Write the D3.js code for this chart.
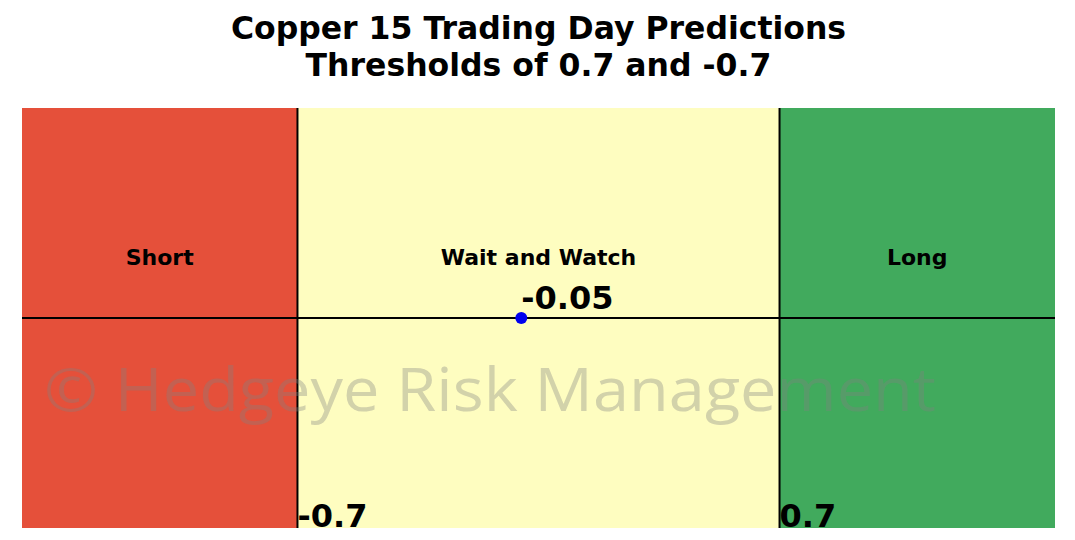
<!DOCTYPE html>
<html><head><meta charset="utf-8">
<script src="https://cdn.jsdelivr.net/npm/d3@7"></script>
<style>body{margin:0;background:#fff}</style>
</head><body>
<svg id="c" width="1075" height="540"></svg>
<script>
const titleLines = ["Copper 15 Trading Day Predictions", "Thresholds of 0.7 and -0.7"];
const zoneNames = ["Short", "Wait and Watch", "Long"];
const zoneStarts = [-1.5, -0.7, 0.7];
const zoneEnds = [-0.7, 0.7, 1.5];
const zoneColors = ["#e5503a", "#fefdc0", "#41aa5d"];
const thresholds = [-0.7, 0.7];
const thresholdLabels = ["-0.7", "0.7"];
const prediction = [-0.05];
const predictionLabel = ["-0.05"];
const watermark = "© Hedgeye Risk Management";

const svg = d3.select("#c");
const m = {l: 22, r: 1055, t: 108, b: 528};
const x = d3.scaleLinear().domain([-1.5, 1.5]).range([m.l, m.r]);
const y = d3.scaleLinear().domain([-1, 1]).range([m.b, m.t]);
const font = "'DejaVu Sans', sans-serif";

svg.append("defs").append("clipPath").attr("id", "clip")
  .append("rect").attr("x", m.l).attr("y", m.t).attr("width", m.r - m.l).attr("height", m.b - m.t);

const g = svg.append("g").attr("clip-path", "url(#clip)");

g.selectAll("rect.zone").data(zoneNames).join("rect").attr("class", "zone")
  .attr("x", (d, i) => x(zoneStarts[i]))
  .attr("width", (d, i) => x(zoneEnds[i]) - x(zoneStarts[i]))
  .attr("y", y(1)).attr("height", y(-1) - y(1))
  .attr("fill", (d, i) => zoneColors[i]);

g.selectAll("text.zone").data(zoneNames).join("text").attr("class", "zone")
  .attr("x", (d, i) => x((zoneStarts[i] + zoneEnds[i]) / 2))
  .attr("y", y(0.29))
  .attr("text-anchor", "middle").attr("dominant-baseline", "central")
  .attr("font-family", font).attr("font-weight", "bold").attr("font-size", 22)
  .text(d => d);

// horizontal line
g.append("line").attr("x1", x(-1.5)).attr("x2", x(1.5)).attr("y1", y(0)).attr("y2", y(0))
  .attr("stroke", "#000").attr("stroke-width", 2);

// threshold lines
g.selectAll("line.th").data(thresholds).join("line").attr("class", "th")
  .attr("x1", d => x(d)).attr("x2", d => x(d)).attr("y1", y(1)).attr("y2", y(-1))
  .attr("stroke", "#000").attr("stroke-width", 2);

// watermark
g.append("text").attr("x", 44).attr("y", 411)
  .attr("font-family", "'Open Sans', sans-serif").attr("font-size", 60)
  .attr("fill", "#808080").attr("fill-opacity", 0.35)
  .attr("textLength", 892).attr("lengthAdjust", "spacingAndGlyphs")
  .text(watermark);

// threshold labels
g.selectAll("text.th").data(thresholds).join("text").attr("class", "th")
  .attr("x", d => x(d)).attr("y", y(-1) - 1)
  .attr("font-family", font).attr("font-weight", "bold").attr("font-size", 32)
  .text((d, i) => thresholdLabels[i]);

// prediction point
g.selectAll("circle.p").data(prediction).join("circle").attr("class", "p")
  .attr("cx", d => x(d)).attr("cy", y(0)).attr("r", 6).attr("fill", "#0000ee");

g.selectAll("text.p").data(prediction).join("text").attr("class", "p")
  .attr("x", d => x(d)).attr("y", y(0) - 9)
  .attr("font-family", font).attr("font-weight", "bold").attr("font-size", 32)
  .text((d, i) => predictionLabel[i]);

// title
svg.selectAll("text.title").data(titleLines).join("text").attr("class", "title")
  .attr("x", 538.5).attr("y", (d, i) => 39 + i * 37)
  .attr("text-anchor", "middle")
  .attr("font-family", font).attr("font-weight", "bold").attr("font-size", 31.5)
  .text(d => d);
</script>
</body></html>
